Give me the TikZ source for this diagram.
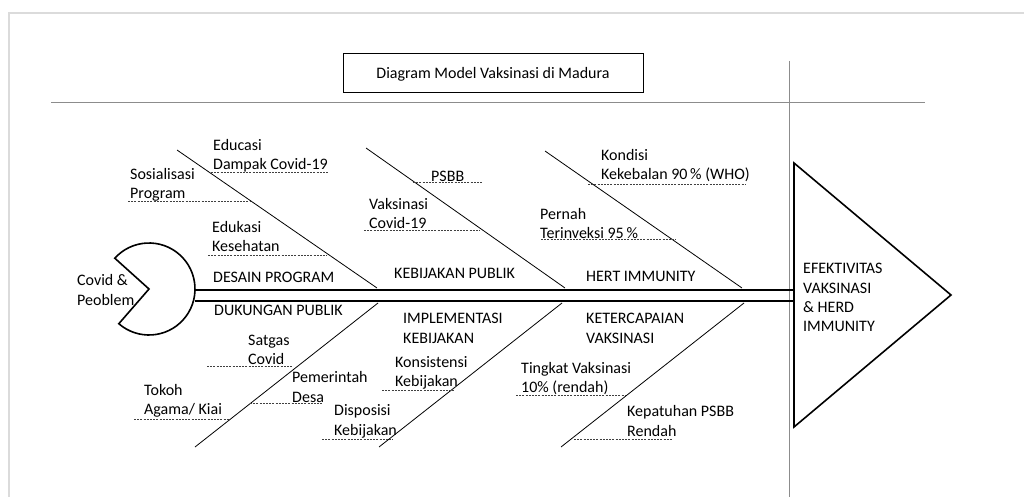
\documentclass[tikz,border=0pt]{standalone}
\usepackage{fontspec}
\setmainfont{Carlito}
\newcommand\lblfont{\fontsize{16}{19.2}\selectfont}
\begin{document}
\begin{tikzpicture}[x=1pt,y=1pt,
  lbl/.style={anchor=base west, inner sep=0pt, align=left, font=\lblfont},
  uline/.style={line width=0.8pt, dash pattern=on 2pt off 1.2pt, draw=black!75},
  dotline/.style={line width=0.8pt, dash pattern=on 0.5pt off 0.5pt, draw=black!45},
  bone/.style={line width=0.8pt},
  spine/.style={line width=1.5pt},
  outline/.style={line width=1.6pt}]
\useasboundingbox (0,0) rectangle (1024,-497);
% page frame
\draw[draw=black!14, line width=2pt] (1024,-13) -- (9,-13) -- (9,-497);

% title
\node[draw, line width=0.9pt, minimum width=300pt, minimum height=39pt, inner sep=0pt,
      text height=13pt, text depth=0pt, font=\lblfont] (title) at (493,-72.5)
      {Diagram Model Vaksinasi di Madura};
% dotted guides
\coordinate (hl) at (51,-102);
\coordinate (hr) at (925,-102);
\coordinate (vt) at (789,-61);
\coordinate (vb) at (789,-497);
\draw[dotline] (hl) -- (hr);
\draw[dotline] (vt) -- (vb);

% head (pacman)
\coordinate (headc) at (149,-289);
\draw[outline, fill=white] (headc) -- ++(138:46) arc[start angle=138, end angle=-131, radius=46] -- cycle;
\node[lbl] (covid) at (77,-305) {Covid \&\\Peoblem};

% effect triangle
\coordinate (t1) at (794,-163);
\coordinate (t2) at (951,-295);
\coordinate (t3) at (794,-427);
\draw[outline, fill=white, line join=miter] (t1) -- (t2) -- (t3) -- cycle;
\node[lbl] (effect) at (803,-331.5) {EFEKTIVITAS\\VAKSINASI\\\& HERD\\IMMUNITY};

% spine
\coordinate (sa1) at (195,-290);
\coordinate (sb1) at (794,-290);
\coordinate (sa2) at (195,-301);
\coordinate (sb2) at (794,-301);
\draw[spine] (sa1) -- (sb1);
\draw[spine] (sa2) -- (sb2);

% upper bones
\coordinate (u1a) at (177,-150); \coordinate (u1b) at (377,-288);
\coordinate (u2a) at (366,-148); \coordinate (u2b) at (565,-288);
\coordinate (u3a) at (545,-151); \coordinate (u3b) at (742,-288);
\draw[bone] (u1a) -- (u1b);
\draw[bone] (u2a) -- (u2b);
\draw[bone] (u3a) -- (u3b);
% lower bones
\coordinate (l1a) at (378,-303); \coordinate (l1b) at (195,-447);
\coordinate (l2a) at (562,-303); \coordinate (l2b) at (379,-447);
\coordinate (l3a) at (744,-303); \coordinate (l3b) at (561,-447);
\draw[bone] (l1a) -- (l1b);
\draw[bone] (l2a) -- (l2b);
\draw[bone] (l3a) -- (l3b);

% category labels
\node[lbl] (desain) at (213,-282.5) {DESAIN PROGRAM};
\node[lbl] (kebij) at (394,-278.5) {KEBIJAKAN PUBLIK};
\node[lbl] (hert) at (586,-281) {HERT IMMUNITY};
\node[lbl] (dukung) at (214,-315.5) {DUKUNGAN PUBLIK};
\node[lbl] (impl) at (403,-343) {IMPLEMENTASI\\KEBIJAKAN};
\node[lbl] (keterc) at (586,-343) {KETERCAPAIAN\\VAKSINASI};

% causes, upper
\node[lbl] (educ) at (213,-170) {Educasi\\Dampak Covid-19};
\draw[uline] (211,-172) -- (329,-172);
\node[lbl] (sos) at (130,-198.5) {Sosialisasi\\Program};
\draw[uline] (128,-201) -- (250,-201);
\node[lbl] (eduk) at (212,-251.5) {Edukasi\\Kesehatan};
\draw[uline] (208,-255) -- (327,-255);
\node[lbl] (psbb) at (431,-182) {PSBB};
\draw[uline] (413,-182.5) -- (482,-182.5);
\node[lbl] (vaks) at (369,-228.5) {Vaksinasi\\Covid-19};
\draw[uline] (364,-230.5) -- (480,-230.5);
\node[lbl] (kond) at (601,-179.5) {Kondisi\\Kekebalan 90\,\% (WHO)};
\draw[uline] (588,-184.5) -- (745,-184.5);
\node[lbl] (pern) at (540,-238.5) {Pernah\\Terinveksi 95\,\%};
\draw[uline] (541,-239.5) -- (676,-239.5);

% causes, lower
\node[lbl] (satg) at (248,-364.5) {Satgas\\Covid};
\draw[uline] (207,-366.5) -- (293,-366.5);
\node[lbl] (pemr) at (292,-402) {Pemerintah\\Desa};
\draw[uline] (250,-403.5) -- (322,-403.5);
\node[lbl] (tokoh) at (144,-414.5) {Tokoh\\Agama/ Kiai};
\draw[uline] (134,-419.5) -- (230,-419.5);
\node[lbl] (kons) at (395,-386.5) {Konsistensi\\Kebijakan};
\draw[uline] (382,-390) -- (454,-390);
\node[lbl] (disp) at (334,-435) {Disposisi\\Kebijakan};
\draw[uline] (322,-439) -- (393,-439);
\node[lbl] (ting) at (521,-392.5) {Tingkat Vaksinasi\\10\% (rendah)};
\draw[uline] (516,-395.5) -- (626,-395.5);
\node[lbl] (kepat) at (627,-436) {Kepatuhan PSBB\\Rendah};
\draw[uline] (574,-439) -- (672,-439);
\end{tikzpicture}
\end{document}
